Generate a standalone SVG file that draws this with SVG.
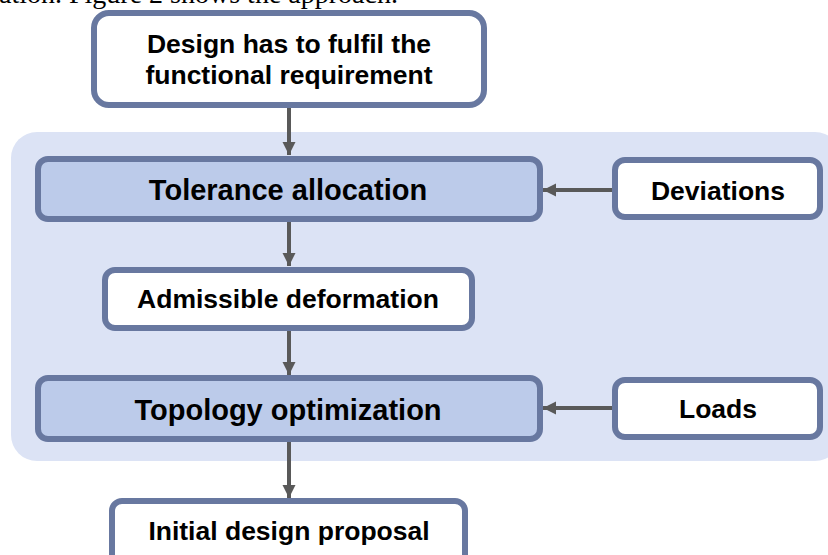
<svg xmlns="http://www.w3.org/2000/svg" width="828" height="555" viewBox="0 0 828 555">
<defs>
<style>
.box{stroke:#6878A0;stroke-width:6}
.w{fill:#FFFFFF}
.b{fill:#BCCBEA}
.t{font-family:"Liberation Sans",Arial,sans-serif;font-weight:bold;fill:#000;text-anchor:middle}
.s{font-size:26.5px}
.l{font-size:29px}
.c{stroke:#595959;stroke-width:4;fill:none;marker-end:url(#ah)}
</style>
<marker id="ah" viewBox="0 0 10 10" refX="10" refY="5" markerWidth="3.3" markerHeight="3.3" orient="auto" markerUnits="strokeWidth">
<path d="M0,0 L10,5 L0,10 z" fill="#595959"/>
</marker>
</defs>
<rect width="828" height="555" fill="#FFFFFF"/>
<text x="-1" y="3" font-family="Liberation Serif,'Times New Roman',serif" font-size="28" fill="#000">ation. Figure 2 shows the approach.</text>
<rect id="panel" x="11" y="132" width="830" height="329" rx="26" fill="#DCE3F5"/>
<g id="connectors">
<line class="c" x1="289" y1="108" x2="289" y2="155"/>
<line class="c" x1="289" y1="222" x2="289" y2="266"/>
<line class="c" x1="289" y1="331" x2="289" y2="375"/>
<line class="c" x1="289" y1="442" x2="289" y2="498"/>
<line class="c" x1="612" y1="190" x2="543" y2="190"/>
<line class="c" x1="612" y1="408" x2="543" y2="408"/>
</g>
<g id="n-requirement">
<rect class="box w" x="94" y="13" width="390" height="92" rx="15"/>
<text class="t s" x="289" y="53">Design has to fulfil the</text>
<text class="t s" x="289" y="84">functional requirement</text>
</g>
<g id="n-tolerance">
<rect class="box b" x="38" y="159" width="502" height="60" rx="10"/>
<text class="t l" x="288" y="200">Tolerance allocation</text>
</g>
<g id="n-deviations">
<rect class="box w" x="615" y="160" width="205" height="57" rx="10"/>
<text class="t s" x="718" y="200">Deviations</text>
</g>
<g id="n-admissible">
<rect class="box w" x="105" y="270" width="367" height="58" rx="10"/>
<text class="t s" x="288" y="308">Admissible deformation</text>
</g>
<g id="n-topology">
<rect class="box b" x="38" y="378" width="502" height="61" rx="10"/>
<text class="t l" x="288" y="420">Topology optimization</text>
</g>
<g id="n-loads">
<rect class="box w" x="615" y="380" width="205" height="57" rx="10"/>
<text class="t s" x="718" y="418">Loads</text>
</g>
<g id="n-initial">
<rect class="box w" x="112" y="501" width="353" height="70" rx="10"/>
<text class="t s" x="289" y="540">Initial design proposal</text>
</g>
</svg>
